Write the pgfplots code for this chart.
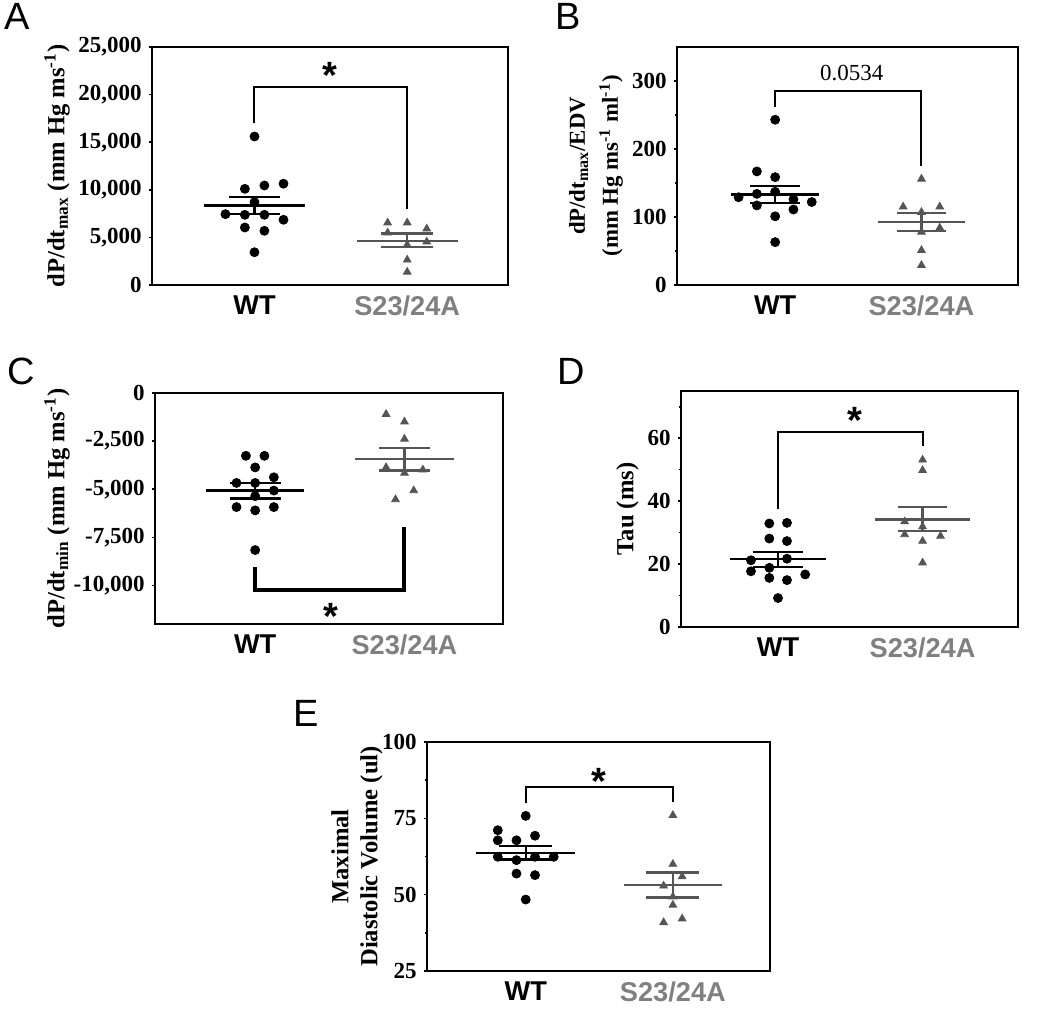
\documentclass[border=0pt]{standalone}
\usepackage{fontspec}
\setmainfont{Liberation Serif}
\setsansfont{Liberation Sans}
\usepackage{pgfplots}
\pgfplotsset{compat=1.18}
\definecolor{sgray}{HTML}{555555}
\definecolor{lgray}{HTML}{808080}

\pgfplotsset{
  panel/.style={
    scale only axis, clip=false,
    xmin=0.329, xmax=2.66,
    xtick={1,2}, xticklabels={WT,{\textcolor{lgray}{S23/24A}}},
    x tick style={draw=none},
    ytick pos=left, tick align=outside,
    major tick length=1.7pt, minor tick length=1.1pt,
    axis line style={line width=1pt},
    every tick/.style={black, line width=0.8pt},
    scaled y ticks=false,
    /pgf/number format/assume math mode=true,
    /pgf/number format/1000 sep={,},
    yticklabel style={font=\fontsize{11.5}{11.5}\selectfont\bfseries},
    xticklabel style={font=\sffamily\bfseries\fontsize{13.6}{13.6}\selectfont},
    every axis y label/.style={at={(axis description cs:0,0.5)}, rotate=90, anchor=center,
      font=\fontsize{12.3}{14.5}\selectfont\bfseries, align=center},
  },
  wtpts/.style={only marks, mark=*, mark size=2.25pt, black},
  s23pts/.style={only marks, mark=triangle*, mark size=2.2pt, sgray, mark options={fill=sgray, draw=sgray}},
  wtln/.style={black, line width=1.15pt, no marks},
  sln/.style={sgray, line width=1.15pt, no marks},
  brk/.style={black, line width=1pt, no marks},
}
\newcommand{\sigstar}[2]{\node[font=\sffamily\bfseries\fontsize{19}{19}\selectfont, yshift=-4pt] at (axis cs:#1,#2) {*};}

\begin{document}
\begin{tikzpicture}
\useasboundingbox (0,0) rectangle (525pt,505pt);

% panel letters
\tikzset{plabel/.style={anchor=base west, font=\sffamily\fontsize{19}{19}\selectfont, inner sep=0}}
\node[plabel] at (2pt,490pt) {A};
\node[plabel] at (277.5pt,490pt) {B};
\node[plabel] at (3.5pt,312.5pt) {C};
\node[plabel] at (278.5pt,312.5pt) {D};
\node[plabel] at (146.5pt,141.5pt) {E};

% A
\begin{axis}[panel, at={(76pt,362.5pt)}, anchor=south west, width=178pt, height=119pt,
  ymin=0, ymax=25000, ytick={0,5000,10000,15000,20000,25000},
  ylabel={dP/dt\textsubscript{max} (mm Hg ms\textsuperscript{-1})},
  ylabel style={at={([xshift=-47.5pt]axis description cs:0,0.5)}}]
\addplot[wtpts] coordinates {(1,15600) (0.937,10100) (1.065,10450) (1.19,10640) (1,8700) (0.81,7440) (0.937,7370) (1.065,7370) (1.19,6850) (0.937,6040) (1.065,5690) (1,3440)};
\addplot[s23pts] coordinates {(1.872,6540) (2,6540) (2.128,5910) (1.872,5490) (2.128,4540) (2,4220) (2,2640) (2,1370)};
\addplot[wtln] coordinates {(0.67,8350) (1.33,8350)};
\addplot[wtln] coordinates {(0.83,9220) (1.17,9220)};
\addplot[wtln] coordinates {(0.83,7450) (1.17,7450)};
\addplot[wtln] coordinates {(1,9220) (1,7450)};
\addplot[sln] coordinates {(1.67,4640) (2.33,4640)};
\addplot[sln] coordinates {(1.83,5400) (2.17,5400)};
\addplot[sln] coordinates {(1.83,3980) (2.17,3980)};
\addplot[sln] coordinates {(2,5400) (2,3980)};
\addplot[brk] coordinates {(1,17020) (1,20810) (2,20810) (2,7970)};
\sigstar{1.495}{22800}
\end{axis}

% B
\begin{axis}[panel, at={(338.5pt,362.5pt)}, anchor=south west, width=170.5pt, height=119pt,
  ymin=0, ymax=350, ytick={0,100,200,300}, minor ytick={50,150,250},
  ylabel={dP/dt\textsubscript{max}/EDV\\[3pt](mm Hg ms\textsuperscript{-1} ml\textsuperscript{-1})},
  ylabel style={at={([xshift=-40.5pt]axis description cs:0,0.5)}, font=\fontsize{11.4}{13.5}\selectfont\bfseries}]
\addplot[wtpts] coordinates {(1,243) (0.875,167) (1,158.6) (0.75,129) (0.875,134) (1,137) (1.125,126) (1.25,122) (0.875,117) (1.125,111) (1,101) (1,63)};
\addplot[s23pts] coordinates {(2,156) (1.875,115) (2.125,115) (2,107) (2.125,84) (2,78) (2,51) (2,29)};
\addplot[wtln] coordinates {(0.70,133) (1.30,133)};
\addplot[wtln] coordinates {(0.83,145.4) (1.17,145.4)};
\addplot[wtln] coordinates {(0.83,121) (1.17,121)};
\addplot[wtln] coordinates {(1,145.4) (1,121)};
\addplot[sln] coordinates {(1.70,93) (2.30,93)};
\addplot[sln] coordinates {(1.83,106) (2.17,106)};
\addplot[sln] coordinates {(1.83,79.5) (2.17,79.5)};
\addplot[sln] coordinates {(2,106) (2,79.5)};
\addplot[brk] coordinates {(1,262) (1,285.5) (2,285.5) (2,175.7)};
\node[font=\fontsize{11.5}{11.5}\selectfont] at (axis cs:1.523,312) {0.0534};
\end{axis}

% C
\begin{axis}[panel, at={(77.5pt,193pt)}, anchor=south west, width=174pt, height=115.5pt,
  ymin=-12000, ymax=0, ytick={-10000,-7500,-5000,-2500,0},
  ylabel={dP/dt\textsubscript{min} (mm Hg ms\textsuperscript{-1})},
  ylabel style={at={([xshift=-49pt]axis description cs:0,0.5)}}]
\addplot[wtpts] coordinates {(0.938,-3264) (1.062,-3264) (1,-3866) (0.875,-4673) (1,-4673) (1.125,-4380) (1.125,-5068) (1,-5360) (0.875,-5927) (1,-6100) (1.125,-5927) (1,-8160)};
\addplot[s23pts] coordinates {(1.877,-1100) (2,-1495) (2,-2388) (1.877,-3866) (2,-4158) (2.123,-3986) (2.062,-5068) (1.94,-5532)};
\addplot[wtln] coordinates {(0.67,-5068) (1.33,-5068)};
\addplot[wtln] coordinates {(0.83,-4673) (1.17,-4673)};
\addplot[wtln] coordinates {(0.83,-5480) (1.17,-5480)};
\addplot[wtln] coordinates {(1,-4673) (1,-5480)};
\addplot[sln] coordinates {(1.67,-3436) (2.33,-3436)};
\addplot[sln] coordinates {(1.83,-2869) (2.17,-2869)};
\addplot[sln] coordinates {(1.83,-4020) (2.17,-4020)};
\addplot[sln] coordinates {(2,-2869) (2,-4020)};
\addplot[black, line width=2pt, no marks] coordinates {(1,-9054) (1,-10256) (2,-10256) (2,-6940)};
\sigstar{1.51}{-11200}
\end{axis}

% D
\begin{axis}[panel, at={(340.5pt,191.5pt)}, anchor=south west, width=168.5pt, height=118pt,
  ymin=0, ymax=75, ytick={0,20,40,60}, minor ytick={10,30,50,70},
  ylabel={Tau (ms)},
  ylabel style={at={([xshift=-26.75pt]axis description cs:0,0.5)}}]
\addplot[wtpts] coordinates {(0.94,32.9) (1.062,33.1) (0.94,28.1) (1.062,27.3) (0.813,21.2) (1.062,21.7) (0.94,18.8) (0.813,17.7) (0.94,15.6) (1.062,14.9) (1.188,16.7) (1,9.2)};
\addplot[s23pts] coordinates {(2,53.1) (2,49.8) (1.876,33.5) (1.876,29.4) (2,31.9) (2.124,28.9) (2,27.3) (2,20.4)};
\addplot[wtln] coordinates {(0.67,21.5) (1.33,21.5)};
\addplot[wtln] coordinates {(0.83,23.8) (1.17,23.8)};
\addplot[wtln] coordinates {(0.83,19.1) (1.17,19.1)};
\addplot[wtln] coordinates {(1,23.8) (1,19.1)};
\addplot[sln] coordinates {(1.67,34.2) (2.33,34.2)};
\addplot[sln] coordinates {(1.83,38.2) (2.17,38.2)};
\addplot[sln] coordinates {(1.83,30.5) (2.17,30.5)};
\addplot[sln] coordinates {(2,38.2) (2,30.5)};
\addplot[brk] coordinates {(1,37.4) (1,62.1) (2,62.1) (2,57.6)};
\sigstar{1.532}{68.2}
\end{axis}

% E
\begin{axis}[panel, at={(213.5pt,19.5pt)}, anchor=south west, width=171.5pt, height=114.5pt,
  ymin=25, ymax=100, ytick={25,50,75,100}, minor ytick={37.5,62.5,87.5},
  ylabel={Maximal\\Diastolic Volume (ul)},
  ylabel style={at={([xshift=-35pt]axis description cs:0,0.5)}}]
\addplot[wtpts] coordinates {(1,75.8) (0.81,71.1) (0.81,67.8) (0.937,67.8) (1.063,69.3) (0.81,62.4) (0.937,61.3) (1.063,62.4) (1.19,62.4) (0.937,56.9) (1.063,56.4) (1,48.4)};
\addplot[s23pts] coordinates {(2,76) (2,60) (1.937,52.9) (2.063,55.9) (2,49.3) (2,46.6) (1.937,40.9) (2.063,42.1)};
\addplot[wtln] coordinates {(0.665,63.7) (1.335,63.7)};
\addplot[wtln] coordinates {(0.82,65.9) (1.18,65.9)};
\addplot[wtln] coordinates {(0.82,61.5) (1.18,61.5)};
\addplot[wtln] coordinates {(1,65.9) (1,61.5)};
\addplot[sln] coordinates {(1.665,53.1) (2.335,53.1)};
\addplot[sln] coordinates {(1.82,57.3) (2.18,57.3)};
\addplot[sln] coordinates {(1.82,49.1) (2.18,49.1)};
\addplot[sln] coordinates {(2,57.3) (2,49.1)};
\addplot[brk] coordinates {(1,80) (1,85.2) (2,85.2) (2,80.4)};
\sigstar{1.50}{89.6}
\end{axis}
\end{tikzpicture}
\end{document}
